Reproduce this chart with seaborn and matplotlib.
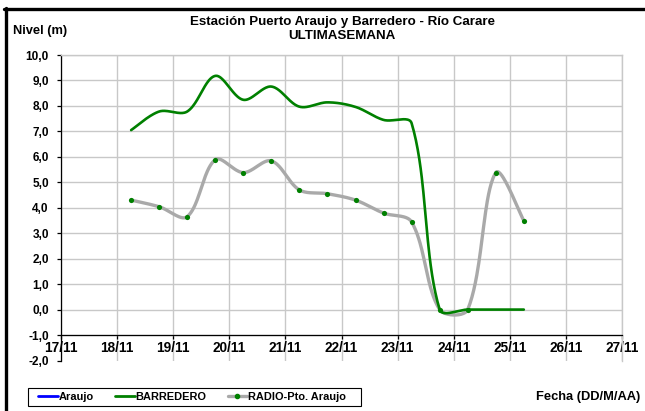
import numpy as np
import pandas as pd
import matplotlib
matplotlib.use("Agg")
import matplotlib.pyplot as plt
import seaborn as sns
from matplotlib.lines import Line2D
from matplotlib.patches import Rectangle
from matplotlib.ticker import FuncFormatter

# ---- data ----
days = [18.25, 18.75, 19.25, 19.75, 20.25, 20.75, 21.25, 21.75,
        22.25, 22.75, 23.25, 23.75, 24.25, 24.75, 25.25]
barredero = [7.05, 7.78, 7.78, 9.18, 8.24, 8.76, 7.97, 8.14,
             7.96, 7.45, 7.32, 0.0, 0.0, 0.0, 0.0]
radio = [4.30, 4.04, 3.65, 5.89, 5.38, 5.84, 4.70, 4.55,
         4.30, 3.79, 3.44, 0.0, 0.0, 5.38, 3.49]
araujo = []
xtick_vals = list(range(17, 28))
xtick_labels = [f"{d}/11" for d in xtick_vals]
yticks = list(range(-2, 11))

title_text = "Estación Puerto Araujo y Barredero - Río Carare\nULTIMASEMANA"

sns.set_theme(style="white")
plt.rcParams['font.family'] = ['Liberation Sans', 'DejaVu Sans']
plt.rcParams['xtick.color'] = 'black'
plt.rcParams['ytick.color'] = 'black'

# pixel scale of the data area (used for an Excel-like smoothing)
PX_X, PX_Y = 56.1, 25.5


def smooth(xs, ys, n=40):
    """Excel-like smoothed line (chord-scaled Bezier) through the points."""
    P = np.column_stack([np.asarray(xs, float) * PX_X, np.asarray(ys, float) * PX_Y])
    out = []
    m = len(P)
    for i in range(m - 1):
        p0 = P[i - 1] if i > 0 else P[i]
        p1 = P[i]; p2 = P[i + 1]
        p3 = P[i + 2] if i + 2 < m else P[i + 1]
        d01 = np.linalg.norm(p1 - p0); d12 = np.linalg.norm(p2 - p1); d23 = np.linalg.norm(p3 - p2)
        f1 = d12 / (d01 + d12) if d01 > 0 else 0.5
        f2 = d12 / (d12 + d23) if d23 > 0 else 0.5
        c1 = p1 + (p2 - p0) * f1 / 3.0
        c2 = p2 - (p3 - p1) * f2 / 3.0
        t = np.linspace(0, 1, n, endpoint=(i == m - 2))[:, None]
        seg = ((1 - t) ** 3) * p1 + 3 * ((1 - t) ** 2) * t * c1 + 3 * (1 - t) * t ** 2 * c2 + t ** 3 * p2
        out.append(seg)
    arr = np.vstack(out)
    return arr[:, 0] / PX_X, arr[:, 1] / PX_Y


fig = plt.figure(figsize=(6.45, 4.11), dpi=100)
ax = fig.add_axes([61 / 645, 1 - 360.5 / 411, (622 - 61) / 645, (360.5 - 55) / 411])

GREEN = "#008000"
GRAY = "#A9A9A9"

bx, by = smooth(days, barredero)
rx, ry = smooth(days, radio)
df_b = pd.DataFrame({"x": bx, "y": by})
df_r = pd.DataFrame({"x": rx, "y": ry})
sns.lineplot(data=df_r, x="x", y="y", ax=ax, color=GRAY, lw=2.4, sort=False,
             estimator=None, legend=False, zorder=3)
sns.lineplot(data=df_b, x="x", y="y", ax=ax, color=GREEN, lw=1.9, sort=False,
             estimator=None, legend=False, zorder=4)
sns.scatterplot(x=days, y=radio, ax=ax, color=GREEN, s=14, linewidth=0,
                zorder=5, legend=False)
if araujo:
    ax.plot(days[:len(araujo)], araujo, color="#0000FF", lw=2)

ax.set_xlim(17, 27)
ax.set_ylim(-2, 10)
ax.set_xlabel(""); ax.set_ylabel("")

ax.grid(True, color="#C8C8C8", lw=1.0)
ax.set_axisbelow(True)

ax.spines['bottom'].set_position(('data', -1))
ax.spines['bottom'].set_color("black")
ax.spines['bottom'].set_linewidth(0.9)
ax.spines['left'].set_color("black")
ax.spines['left'].set_linewidth(0.9)
ax.spines['top'].set_color("#C8C8C8")
ax.spines['right'].set_color("#C8C8C8")
ax.spines['top'].set_linewidth(1.0)
ax.spines['right'].set_linewidth(1.0)
ax.tick_params(axis='x', direction='out', length=3.2, width=0.9, color="black",
               pad=1.0, bottom=True, labelcolor="black")
ax.tick_params(axis='y', direction='out', length=3.0, width=0.9, color="black",
               pad=5.8, left=True, labelcolor="black")

ax.set_xticks(xtick_vals, labels=xtick_labels, fontweight="bold", fontsize=9.8)
ax.set_yticks(yticks)
ax.yaxis.set_major_formatter(FuncFormatter(lambda v, p: f"{v:.1f}".replace(".", ",")))
for lab in ax.get_yticklabels():
    lab.set_fontweight("bold"); lab.set_fontsize(8.5); lab.set_color("black")
ax.get_ygridlines()[0].set_visible(False)

fig.text(342 / 645, 1 - 29 / 411, title_text, ha="center", va="center",
         fontsize=9.6, fontweight="bold", linespacing=1.2, color="black")
fig.text(13 / 645, 1 - 31 / 411, "Nivel (m)", ha="left", va="center",
         fontsize=9.3, fontweight="bold", color="black")
fig.text(640 / 645, 1 - 397 / 411, "Fecha (DD/M/AA)", ha="right", va="center",
         fontsize=9.3, fontweight="bold", color="black")

handles = [
    Line2D([], [], color="#0000FF", lw=2),
    Line2D([], [], color=GREEN, lw=2),
    Line2D([], [], color=GRAY, lw=2.4, marker="o", markersize=3,
           markerfacecolor=GREEN, markeredgecolor=GREEN),
]
leg = fig.legend(handles, ["Araujo", "BARREDERO", "RADIO-Pto. Araujo"],
                 loc="center left", bbox_to_anchor=(38 / 645, 1 - 397 / 411),
                 ncol=3, frameon=False,
                 prop={"weight": "bold", "size": 7.9},
                 handlelength=1.8, handletextpad=0.1, columnspacing=1.9,
                 borderpad=0.0, borderaxespad=0)
for t in leg.get_texts():
    t.set_color("black")
fig.add_artist(Rectangle((28 / 645, 1 - 406 / 411), (361 - 28) / 645, 18 / 411,
                         transform=fig.transFigure, fill=False, edgecolor="black", lw=0.8))

# outer frame (top and left black lines)
fig.add_artist(Line2D([5.5 / 645, 5.5 / 645], [0, 1 - 8 / 411], color="black", lw=2.4,
                      transform=fig.transFigure))
fig.add_artist(Line2D([4.3 / 645, 1], [1 - 9 / 411, 1 - 9 / 411], color="black", lw=2.4,
                      transform=fig.transFigure))

fig.savefig("out.png", dpi=100)
